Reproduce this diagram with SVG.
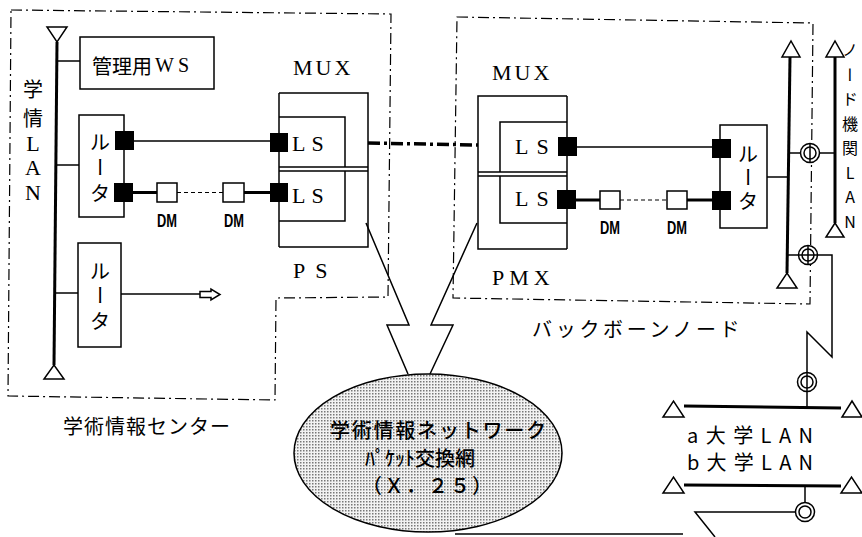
<svg xmlns="http://www.w3.org/2000/svg" width="862" height="537" viewBox="0 0 862 537">
<style>
.l{stroke:#000;stroke-width:1.5;fill:none}
.lan{stroke:#000;stroke-width:3;fill:none}
.th{stroke:#000;stroke-width:3;fill:none}
.dd{stroke:#000;stroke-width:1.2;fill:none;stroke-dasharray:11 4 2 4}
.ddt{stroke:#000;stroke-width:3.5;fill:none;stroke-dasharray:12 4 3 4}
.dsh{stroke:#000;stroke-width:1.2;fill:none;stroke-dasharray:4 3}
.box{stroke:#000;stroke-width:1.5;fill:#fff}
.tri{stroke:#000;stroke-width:1.5;fill:#fff}
.sq{fill:#000}
.jp{font-family:"Noto Sans CJK JP","Noto Sans",sans-serif;font-size:20px;fill:#000;dominant-baseline:central}
.se{font-family:"Liberation Serif","Noto Sans CJK JP",serif;font-size:22px;fill:#000;dominant-baseline:central}
.dm{font-family:"Liberation Sans",sans-serif;font-size:19px;font-weight:bold;fill:#000;dominant-baseline:central}
.c{text-anchor:middle}
.vt{font-family:"Noto Sans CJK JP","Noto Sans",sans-serif;fill:#000;writing-mode:vertical-rl;text-orientation:upright}
</style>
<defs>
<pattern id="dots" width="3" height="3" patternUnits="userSpaceOnUse">
<rect width="3" height="3" fill="#f2f2f2"/>
<rect width="1.5" height="1.5" fill="#777"/>
</pattern>
</defs>

<g id="center-box">
<path class="dd" d="M11,10 L391,14 L388,297 L276,298 L275,400 L8,396 Z"/>
<text class="jp" x="63" y="425" font-size="21" letter-spacing="1">学術情報センター</text>
</g>

<g id="backbone-box">
<path class="dd" d="M457,17 L813,23 L810,304 L453,298 Z"/>
<text class="jp" x="532" y="328" font-size="18" letter-spacing="3.7">バックボーンノード</text>
</g>

<g id="lan-left">
<line class="lan" x1="57" y1="42" x2="54" y2="365"/>
<polygon class="tri" points="47,27 67,27 57,42"/>
<polygon class="tri" points="44,379 64,379 54,365"/>
<text class="jp c" x="33" y="88" font-size="19">学</text>
<text class="jp c" x="33" y="117" font-size="19">情</text>
<text class="se c" x="33" y="143" font-size="20">L</text>
<text class="se c" x="33" y="167" font-size="20">A</text>
<text class="se c" x="33" y="192" font-size="20">N</text>
</g>

<g id="ws">
<rect class="box" x="80" y="37" width="134" height="52"/>
<text class="jp" x="92" y="65" font-size="22">管理用<tspan font-family="Liberation Serif, serif" dx="3" letter-spacing="4">WS</tspan></text>
</g>

<g id="router1">
<rect class="box" x="79" y="115" width="45" height="102"/>
<text class="jp c" x="100" y="141" font-size="20">ル</text>
<text class="jp c" x="100" y="167" font-size="20" transform="rotate(90 100 167)">ー</text>
<text class="jp c" x="100" y="192" font-size="20">タ</text>
<rect class="sq" x="115" y="131" width="19" height="19"/>
<rect class="sq" x="114" y="183" width="19" height="19"/>
</g>

<g id="router3">
<rect class="box" x="78" y="243" width="43" height="104"/>
<text class="jp c" x="100" y="270" font-size="20">ル</text>
<text class="jp c" x="100" y="295" font-size="20" transform="rotate(90 100 295)">ー</text>
<text class="jp c" x="100" y="320" font-size="20">タ</text>
</g>

<g id="mux-left">
<path class="l" d="M279,93 V247"/>
<path class="l" d="M279,93 H368 V247 H279"/>
<path class="l" d="M279,117 H345 V167"/>
<path class="l" d="M279,167 H368 M279,171 H368"/>
<path class="l" d="M345,171 V221 H279"/>
<rect class="sq" x="270" y="133" width="18" height="19"/>
<rect class="sq" x="270" y="183" width="18" height="19"/>
<text class="se" x="292" y="143" letter-spacing="6">LS</text>
<text class="se" x="292" y="195" letter-spacing="6">LS</text>
<text class="se" x="293" y="67" letter-spacing="3">MUX</text>
<text class="se" x="293" y="270" letter-spacing="10">PS</text>
</g>

<g id="dm-left">
<rect class="box" x="157" y="183" width="20" height="19"/>
<rect class="box" x="223" y="183" width="21" height="19"/>
<text class="dm c" x="167" y="220" textLength="20" lengthAdjust="spacingAndGlyphs">DM</text>
<text class="dm c" x="234" y="220" textLength="20" lengthAdjust="spacingAndGlyphs">DM</text>
</g>

<g id="mux-right">
<path class="l" d="M567,96 V249"/>
<path class="l" d="M567,96 H478 V249 H567"/>
<path class="l" d="M567,122 H500 V172"/>
<path class="l" d="M478,172 H567 M478,176 H567"/>
<path class="l" d="M500,176 V223 H567"/>
<rect class="sq" x="558" y="137" width="19" height="19"/>
<rect class="sq" x="557" y="190" width="19" height="19"/>
<text class="se" x="515" y="146" letter-spacing="8">LS</text>
<text class="se" x="515" y="198" letter-spacing="8">LS</text>
<text class="se" x="492" y="72" letter-spacing="3">MUX</text>
<text class="se" x="492" y="277" letter-spacing="5">PMX</text>
</g>

<g id="dm-right">
<rect class="box" x="600" y="191" width="20" height="18"/>
<rect class="box" x="667" y="191" width="20" height="18"/>
<text class="dm c" x="610" y="227" textLength="20" lengthAdjust="spacingAndGlyphs">DM</text>
<text class="dm c" x="677" y="227" textLength="20" lengthAdjust="spacingAndGlyphs">DM</text>
</g>

<g id="router2">
<rect class="box" x="720" y="125" width="47" height="103"/>
<rect class="sq" x="712" y="139" width="19" height="19"/>
<rect class="sq" x="712" y="191" width="19" height="19"/>
<text class="jp c" x="748" y="153" font-size="20">ル</text>
<text class="jp c" x="748" y="177" font-size="20" transform="rotate(90 748 177)">ー</text>
<text class="jp c" x="748" y="200" font-size="20">タ</text>
</g>

<g id="lan-backbone">
<line class="lan" x1="790" y1="57" x2="787" y2="273"/>
<polygon class="tri" points="782,57 800,57 791,41"/>
<polygon class="tri" points="777,288 797,288 787,273"/>
</g>

<g id="lan-node">
<line class="lan" x1="835" y1="57" x2="835" y2="223"/>
<polygon class="tri" points="826,57 844,57 835,41"/>
<polygon class="tri" points="826,237 844,237 835,223"/>
<text class="vt" x="850" y="42" font-size="16" letter-spacing="8.5">ノード機関LAN</text>
</g>

<g id="ring1">
<circle class="box" cx="810" cy="153" r="9.5"/>
<circle class="l" cx="810" cy="153" r="6"/>
<line class="l" x1="810" y1="144" x2="810" y2="162"/>
</g>
<g id="ring2">
<circle class="box" cx="808" cy="255" r="9.5"/>
<circle class="l" cx="808" cy="255" r="6"/>
<line class="l" x1="808" y1="246" x2="808" y2="264"/>
<line class="l" x1="799" y1="255" x2="817" y2="255"/>
</g>
<g id="ring3">
<circle class="box" cx="807" cy="382" r="9.5"/>
<circle class="l" cx="807" cy="382" r="6"/>
<line class="l" x1="807" y1="373" x2="807" y2="391"/>
</g>
<g id="ring4">
<circle class="box" cx="805" cy="512" r="9.5"/>
<circle class="l" cx="805" cy="512" r="6"/>
</g>

<g id="a-lan">
<line class="lan" x1="684" y1="406" x2="841" y2="408"/>
<polygon class="tri" points="663,417 684,417 673.5,401"/>
<polygon class="tri" points="842,417 862,417 852,401"/>
<text class="jp" x="687" y="434" font-size="18" textLength="126" lengthAdjust="spacing">a大学LAN</text>
</g>
<g id="b-lan">
<line class="lan" x1="684" y1="485" x2="841" y2="486"/>
<polygon class="tri" points="663,493 684,493 673.5,477"/>
<polygon class="tri" points="841,493 862,493 851.5,477"/>
<text class="jp" x="687" y="461" font-size="18" textLength="126" lengthAdjust="spacing">b大学LAN</text>
</g>

<g id="x25">
<ellipse cx="428" cy="453" rx="134" ry="79" fill="url(#dots)" stroke="#000" stroke-width="1.5"/>
<text class="jp c" x="438" y="429" font-size="19" font-weight="500" textLength="216" lengthAdjust="spacing">学術情報ネットワーク</text>
<text class="jp c" x="420" y="457" font-size="18" font-weight="500">ﾊﾟｹｯﾄ交換網</text>
<text class="jp c" x="427" y="484" font-size="18" font-weight="500" textLength="130" lengthAdjust="spacing">（Ｘ．２５）</text>
</g>

<g id="connectors">
<line class="l" x1="57" y1="61" x2="80" y2="61"/>
<line class="l" x1="56" y1="165" x2="79" y2="165"/>
<line class="l" x1="54" y1="293" x2="78" y2="293"/>
<line class="l" x1="121" y1="294" x2="200" y2="294"/>
<path class="box" d="M200,291.5 H211 V289 L220,294.5 L211,300 V297.5 H200 Z"/>
<line class="l" x1="134" y1="141" x2="270" y2="141"/>
<line class="th" x1="133" y1="192.5" x2="157" y2="192.5"/>
<line class="dsh" x1="177" y1="192.5" x2="223" y2="192.5"/>
<line class="th" x1="244" y1="192.5" x2="270" y2="192.5"/>
<path class="ddt" d="M368,143 L478,145"/>
<line class="l" x1="577" y1="147" x2="712" y2="147"/>
<line class="th" x1="576" y1="200" x2="600" y2="200"/>
<line class="dsh" x1="620" y1="200" x2="667" y2="200"/>
<line class="th" x1="687" y1="200" x2="712" y2="200"/>
<line class="l" x1="767" y1="177" x2="789" y2="177"/>
<line class="l" x1="790" y1="153" x2="800.5" y2="153"/>
<line class="l" x1="819.5" y1="153" x2="835" y2="153"/>
<line class="l" x1="788" y1="255" x2="798.5" y2="255"/>
<path class="l" d="M817.5,255 H832 V357 L807,332 V372.5"/>
<line class="l" x1="807" y1="391.5" x2="807" y2="407"/>
<line class="l" x1="805" y1="486" x2="805" y2="502.5"/>
<path class="l" d="M795.5,512 H695 L715,537"/>
<line class="l" x1="455" y1="534" x2="683" y2="534"/>
<path class="l" d="M366,223 L409,325 L387,325 L408,374"/>
<path class="l" d="M477,223 L431,325 L453,325 L430,374"/>
</g>
</svg>
